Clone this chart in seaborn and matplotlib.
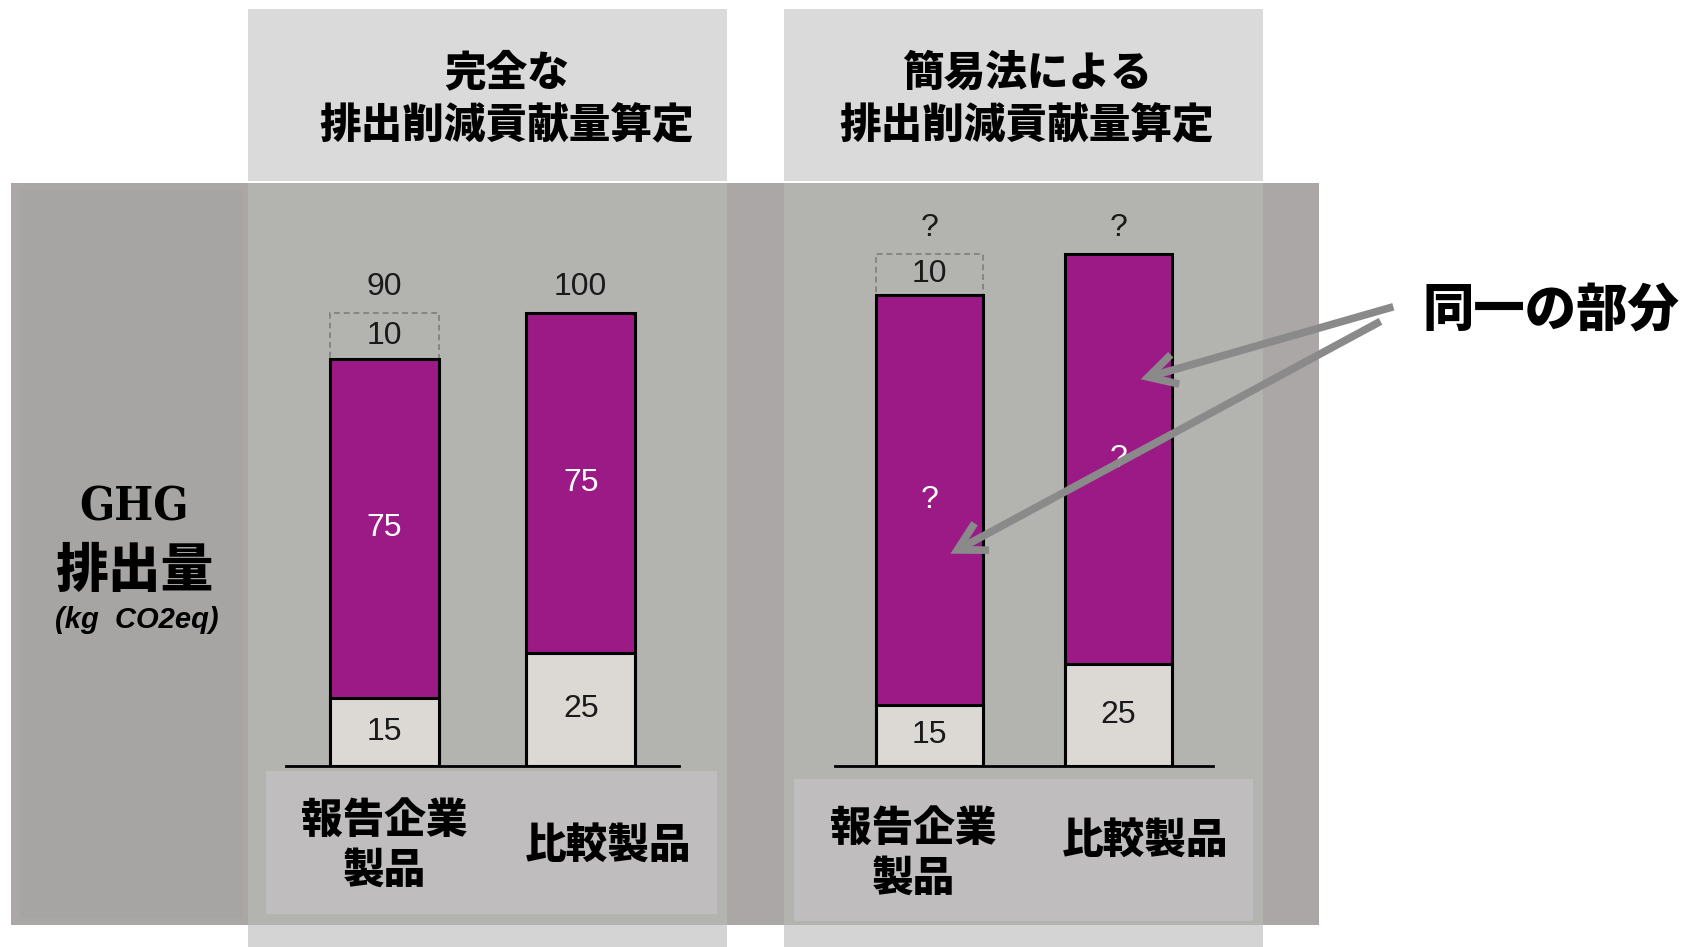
import matplotlib.pyplot as plt
import matplotlib as mpl
from matplotlib import font_manager as fm
from matplotlib.patches import Rectangle, FancyArrowPatch
import seaborn as sns

sns.set_theme(style='white')
plt.rcParams['font.family'] = ['Noto Sans CJK JP', 'DejaVu Sans']
plt.rcParams['text.color'] = 'black'

names = {f.name for f in fm.fontManager.ttflist}
NARROW = next((n for n in ['Liberation Sans Narrow', 'Liberation Sans'] if n in names),
              'DejaVu Sans')
NUM_KW = dict(family=NARROW, fontstretch='condensed')

# ---- data ----
cats = ['報告企業製品', '比較製品']
cat_labels = ['報告企業\n製品', '比較製品']

# complete calculation
full_base = [15, 25]
full_mid = [75, 75]
full_cut = [10, 0]
full_base_lbl = ['15', '25']
full_mid_lbl = ['75', '75']
full_cut_lbl = ['10', '']
full_top_lbl = ['90', '100']

# simplified method
simp_base = [15, 25]
simp_mid = [100, 100]
simp_cut = [10, 0]
simp_base_lbl = ['15', '25']
simp_mid_lbl = ['?', '?']
simp_cut_lbl = ['10', '']
simp_top_lbl = ['?', '?']

MAGENTA = '#9c1a86'
BASE = '#dcd8d4'

W, H = 1690, 947
fig = plt.figure(figsize=(W / 100, H / 100), dpi=100)


def px_axes(x0, y0, x1, y1, **kw):
    # pixel box (top-left origin) -> figure axes
    return fig.add_axes([x0 / W, 1 - y1 / H, (x1 - x0) / W, (y1 - y0) / H], **kw)


# background decoration in pixel coords
bg = fig.add_axes([0, 0, 1, 1], zorder=0)
bg.set_xlim(0, W)
bg.set_ylim(H, 0)
bg.axis('off')


def box(x0, y0, x1, y1, color):
    bg.add_patch(Rectangle((x0, y0), x1 - x0, y1 - y0, color=color, lw=0))


box(11, 183, 1319, 925, '#aaa7a6')
box(20, 190, 243, 918, '#a7a4a4')
for cx0, cx1 in [(248, 727), (784, 1263)]:
    box(cx0, 9, cx1, 181, '#dadada')
    box(cx0, 183, cx1, 925, '#b3b3b0')
    box(cx0, 925, cx1, 947, '#d4d4d4')
box(266, 771, 717, 914, '#bfbdbd')
box(794, 779, 1253, 921, '#bfbdbd')

HEAVY = 'heavy'
bg.text(507, 100, '完全な\n排出削減貢献量算定', ha='center', va='center',
        fontsize=30, fontweight=HEAVY, linespacing=1.33)
bg.text(1027, 100, '簡易法による\n排出削減貢献量算定', ha='center', va='center',
        fontsize=30, fontweight=HEAVY, linespacing=1.33)

bg.text(134, 507, 'GHG', ha='center', va='center', fontsize=33,
        family='DejaVu Serif', fontstretch='condensed', fontweight='bold')
bg.text(134, 571, '排出量', ha='center', va='center', fontsize=38, fontweight=HEAVY)
bg.text(137, 620, '(kg  CO2eq)', ha='center', va='center', fontsize=21,
        style='italic', fontweight='bold', **NUM_KW)


def draw_panel(ax, base, mid, cut, base_lbl, mid_lbl, cut_lbl, top_lbl,
               width, lbl_dx, lbl_dy):
    tot_mid = [b + m for b, m in zip(base, mid)]
    tot_cut = [t + c for t, c in zip(tot_mid, cut)]
    has_cut = [c > 0 for c in cut]
    # dashed "reduction" part, then stacked layers drawn from the top down
    sns.barplot(x=[c for c, h in zip(cats, has_cut) if h],
                y=[t for t, h in zip(tot_cut, has_cut) if h],
                order=cats, width=width, fill=False, color='#858585',
                edgecolor='#858585', linestyle=(0, (3, 2)), linewidth=1.4,
                errorbar=None, ax=ax)
    sns.barplot(x=cats, y=tot_mid, order=cats, width=width, color=MAGENTA,
                saturation=1, edgecolor='black', linewidth=2.2, errorbar=None, ax=ax)
    sns.barplot(x=cats, y=base, order=cats, width=width, color=BASE,
                saturation=1, edgecolor='black', linewidth=2.2, errorbar=None, ax=ax)

    for i in range(len(cats)):
        ax.text(i, base[i] / 2, base_lbl[i], ha='center', va='center',
                fontsize=23, color='#1a1a1a', **NUM_KW)
        ax.text(i, base[i] + mid[i] / 2, mid_lbl[i], ha='center', va='center',
                fontsize=23, color='white', **NUM_KW)
        if cut[i]:
            ax.text(i, tot_mid[i] + cut[i] / 2, cut_lbl[i], ha='center',
                    va='center', fontsize=23, color='#1a1a1a', **NUM_KW)
        ax.annotate(top_lbl[i], (i, tot_cut[i]), xytext=(0, 19),
                    textcoords='offset points', ha='center', va='center',
                    fontsize=23, color='#1a1a1a', **NUM_KW)
        tr = mpl.transforms.offset_copy(ax.get_xaxis_transform(), fig=fig,
                                        y=-lbl_dy[i], units='dots')
        ax.text(i + lbl_dx[i], 0, cat_labels[i], transform=tr, ha='center',
                va='center', fontsize=30, fontweight=HEAVY, linespacing=1.22,
                clip_on=False)

    ax.set_xlim(-0.5, 1.5)
    ax.set_facecolor('none')
    sns.despine(ax=ax, left=True)
    ax.spines['bottom'].set_color('black')
    ax.spines['bottom'].set_linewidth(2)
    ax.set_yticks([])
    ax.set_xticks([])
    ax.set_xlabel('')
    ax.set_ylabel('')


BASELINE, TOP = 766, 200
ax_l = px_axes(286, TOP, 679, BASELINE, zorder=2)
draw_panel(ax_l, full_base, full_mid, full_cut, full_base_lbl, full_mid_lbl,
           full_cut_lbl, full_top_lbl, 0.555, [0.0, 0.14], [80, 80])
ax_l.set_ylim(0, (BASELINE - TOP) / 4.527)

ax_r = px_axes(835, TOP, 1213, BASELINE, zorder=2)
draw_panel(ax_r, simp_base, simp_mid, simp_cut, simp_base_lbl, simp_mid_lbl,
           simp_cut_lbl, simp_top_lbl, 0.565, [-0.086, 0.143], [88, 75])
ax_r.set_ylim(0, (BASELINE - TOP) / 4.096)

# overlay: callout arrows and label
ov = fig.add_axes([0, 0, 1, 1], zorder=5)
ov.set_xlim(0, W)
ov.set_ylim(H, 0)
ov.axis('off')
for (x0, y0), (x1, y1) in [((1396, 306), (1138, 380)), ((1383, 320), (948, 555))]:
    ov.add_patch(FancyArrowPatch((x0, y0), (x1, y1),
                                 arrowstyle='->,head_length=20,head_width=11',
                                 color='#8a8a8a', lw=5.5, mutation_scale=1,
                                 capstyle='butt', joinstyle='miter'))
ov.text(1551, 310, '同一の部分', ha='center', va='center', fontsize=37,
        fontweight=HEAVY)

fig.savefig('out.png', dpi=100)
